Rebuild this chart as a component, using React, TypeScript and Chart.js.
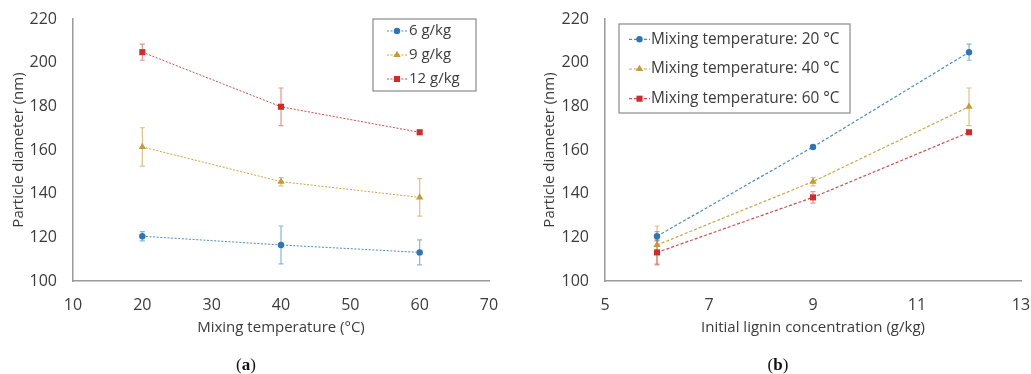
import React, { useEffect, useRef } from "react";
import { Chart, registerables } from "chart.js";

Chart.register(...registerables);

// ---- data ----
const temperatures = [20, 40, 60]; // °C
const concentrations = [6, 9, 12]; // g/kg

// Particle diameter (nm) for each lignin concentration, over mixing temperature
const diameter6 = [120.5, 116.5, 113.1];
const diameter9 = [161.4, 145.5, 138.3];
const diameter12 = [204.8, 179.8, 168.1];

// Standard deviations used in panel (a)
const sd6 = [2.1, 8.7, 5.7];
const sd9 = [8.8, 1.9, 8.6];
const sd12 = [3.7, 8.6, 1.0];

// Particle diameter (nm) for each mixing temperature, over lignin concentration
const diameter20 = [120.5, 161.4, 204.8];
const diameter40 = [116.5, 145.5, 179.8];
const diameter60 = [113.1, 138.3, 168.1];

// Standard deviations used in panel (b)
const sd20 = [2.1, 0.6, 3.7];
const sd40 = [8.7, 1.9, 8.6];
const sd60 = [5.7, 2.6, 1.0];

const labelsA = ["6 g/kg", "9 g/kg", "12 g/kg"];
const labelsB = ["Mixing temperature: 20 °C", "Mixing temperature: 40 °C", "Mixing temperature: 60 °C"];

const yMin = 100;
const yMax = 220;
const yStep = 20;
const xRangeA = [10, 70, 10];
const xRangeB = [5, 13, 2];

// ---- styling ----
const FONT = "'Open Sans', 'DejaVu Sans', sans-serif";
const TEXT = "#3b3b3b";
const AXIS = "#9a9a9a";

const series = [
  { color: "#2E75B6", line: "rgba(46,117,182,0.85)", err: "rgba(46,117,182,0.55)", style: "circle", radius: 3.2 },
  { color: "#C99A2E", line: "rgba(201,154,46,0.9)", err: "rgba(201,154,46,0.6)", style: "triangle", radius: 4.2 },
  { color: "#D12A2A", line: "rgba(209,42,42,0.85)", err: "rgba(209,42,42,0.5)", style: "rect", radius: 4.3 },
];

function points(xs: number[], ys: number[]) {
  return xs.map((x, i) => ({ x, y: ys[i] }));
}

// Vertical error bars with caps, drawn from each dataset's `errors` through the scales
const errorBarPlugin = {
  id: "errorBars",
  beforeDatasetsDraw(chart: any) {
    const { ctx, scales } = chart;
    const xs = scales.x;
    const ys = scales.y;
    chart.data.datasets.forEach((ds: any) => {
      if (!ds.errors) return;
      ctx.save();
      ctx.strokeStyle = ds.errorColor;
      ctx.lineWidth = 1.2;
      ds.data.forEach((pt: any, j: number) => {
        const e = ds.errors[j];
        if (!e) return;
        const px = xs.getPixelForValue(pt.x);
        const top = ys.getPixelForValue(pt.y + e);
        const bot = ys.getPixelForValue(pt.y - e);
        ctx.beginPath();
        ctx.moveTo(px, top);
        ctx.lineTo(px, bot);
        ctx.moveTo(px - 2.5, top);
        ctx.lineTo(px + 2.5, top);
        ctx.moveTo(px - 2.5, bot);
        ctx.lineTo(px + 2.5, bot);
        ctx.stroke();
      });
      ctx.restore();
    });
  },
};

function drawMarker(ctx: CanvasRenderingContext2D, style: string, r: number, x: number, y: number) {
  ctx.beginPath();
  if (style === "circle") {
    ctx.arc(x, y, r, 0, Math.PI * 2);
  } else if (style === "triangle") {
    ctx.moveTo(x, y - r);
    ctx.lineTo(x + r * 0.866, y + r * 0.5);
    ctx.lineTo(x - r * 0.866, y + r * 0.5);
    ctx.closePath();
  } else {
    const s = r * Math.SQRT1_2;
    ctx.rect(x - s, y - s, 2 * s, 2 * s);
  }
  ctx.fill();
}

// Boxed legend placed inside the plot area
const boxLegendPlugin = {
  id: "boxLegend",
  afterDatasetsDraw(chart: any, _args: any, opts: any) {
    const { ctx } = chart;
    const { left, top, width, height, rowStart, rowGap, lineFrom, lineTo, textX, fontSize } = opts;
    ctx.save();
    ctx.fillStyle = "#ffffff";
    ctx.fillRect(left, top, width, height);
    ctx.strokeStyle = "#8a8a8a";
    ctx.lineWidth = 1.2;
    ctx.strokeRect(left, top, width, height);
    chart.data.datasets.forEach((ds: any, i: number) => {
      const y = top + rowStart + i * rowGap;
      ctx.strokeStyle = ds.borderColor;
      ctx.lineWidth = ds.borderWidth;
      ctx.setLineDash(ds.borderDash);
      ctx.beginPath();
      ctx.moveTo(left + lineFrom, y);
      ctx.lineTo(left + lineTo, y);
      ctx.stroke();
      ctx.setLineDash([]);
      ctx.fillStyle = ds.pointBackgroundColor;
      drawMarker(ctx, ds.pointStyle, ds.pointRadius, left + (lineFrom + lineTo) / 2, y);
      ctx.fillStyle = TEXT;
      ctx.font = `${fontSize}px ${FONT}`;
      ctx.textBaseline = "middle";
      ctx.textAlign = "left";
      ctx.fillText(ds.label, left + textX, y);
    });
    ctx.restore();
  },
};

function makeDatasets(xs: number[], ys: number[][], errs: number[][], labels: string[], dash: number[], width: number) {
  return ys.map((vals, i) => {
    const s = series[i];
    return {
      label: labels[i],
      data: points(xs, vals),
      errors: errs[i],
      errorColor: s.err,
      borderColor: s.line,
      borderWidth: width,
      borderDash: dash,
      pointStyle: s.style,
      pointRadius: s.radius,
      pointBackgroundColor: s.color,
      pointBorderColor: s.color,
      pointBorderWidth: 0,
      showLine: true,
      tension: 0,
      clip: false,
    };
  });
}

function makeConfig(p: {
  datasets: any[];
  xRange: number[];
  xTitle: string;
  padLeft: number;
  padRight: number;
  yWidth: number;
  yTitlePad: number;
  legend: any;
}) {
  const tickFont = { family: FONT, size: 16 };
  const titleFont = { family: FONT, size: 15 };
  return {
    type: "scatter",
    data: { datasets: p.datasets },
    plugins: [errorBarPlugin, boxLegendPlugin],
    options: {
      responsive: false,
      animation: false,
      layout: { padding: { left: p.padLeft, right: p.padRight, top: 19, bottom: 0 } },
      plugins: {
        legend: { display: false },
        tooltip: { enabled: false },
        boxLegend: p.legend,
      },
      scales: {
        x: {
          type: "linear",
          min: p.xRange[0],
          max: p.xRange[1],
          ticks: { stepSize: p.xRange[2], padding: 14.5, color: TEXT, font: tickFont },
          grid: { display: false, drawTicks: false },
          border: { display: true, color: AXIS, width: 1.5 },
          title: { display: true, text: p.xTitle, color: TEXT, font: titleFont, padding: { top: 0, bottom: 4 } },
          afterFit: (s: any) => {
            s.height = 60;
            s.paddingLeft = 0;
            s.paddingRight = 0;
          },
        },
        y: {
          type: "linear",
          min: yMin,
          max: yMax,
          ticks: { stepSize: yStep, padding: 16, color: TEXT, font: tickFont },
          grid: { display: false, drawTicks: false },
          border: { display: true, color: AXIS, width: 1.5 },
          title: {
            display: true,
            text: "Particle diameter (nm)",
            color: TEXT,
            font: titleFont,
            padding: { top: p.yTitlePad, bottom: 0 },
          },
          afterFit: (s: any) => {
            s.width = p.yWidth;
            s.paddingTop = 0;
            s.paddingBottom = 0;
          },
        },
      },
    },
  };
}

function ChartPanel({ config, left, width, height }: { config: any; left: number; width: number; height: number }) {
  const ref = useRef<HTMLCanvasElement>(null);
  useEffect(() => {
    const chart = new Chart(ref.current as HTMLCanvasElement, config);
    return () => chart.destroy();
  }, []);
  return (
    <canvas
      ref={ref}
      width={width}
      height={height}
      style={{ position: "absolute", left, top: 0, width, height, display: "block" }}
    />
  );
}

const captionStyle: React.CSSProperties = {
  position: "absolute",
  top: 355,
  fontFamily: "'Liberation Serif', 'DejaVu Serif', serif",
  fontSize: 17,
  lineHeight: "20px",
  color: "#111",
  transform: "translateX(-50%)",
  whiteSpace: "nowrap",
};

export default function App() {
  const configA = makeConfig({
    datasets: makeDatasets(temperatures, [diameter6, diameter9, diameter12], [sd6, sd9, sd12], labelsA, [2, 1.6], 1),
    xRange: xRangeA,
    xTitle: "Mixing temperature (°C)",
    padLeft: 0,
    padRight: 11,
    yWidth: 73,
    yTitlePad: 9.5,
    legend: { left: 373, top: 19, width: 103, height: 72, rowStart: 12, rowGap: 24, lineFrom: 14, lineTo: 34, textX: 36, fontSize: 15 },
  });
  const configB = makeConfig({
    datasets: makeDatasets(concentrations, [diameter20, diameter40, diameter60], [sd20, sd40, sd60], labelsB, [3, 2], 1.2),
    xRange: xRangeB,
    xTitle: "Initial lignin concentration (g/kg)",
    padLeft: 15,
    padRight: 10,
    yWidth: 75,
    yTitlePad: 11,
    legend: { left: 104, top: 24, width: 231, height: 89, rowStart: 15.3, rowGap: 29.7, lineFrom: 10, lineTo: 31, textX: 32, fontSize: 15.4 },
  });

  return (
    <div style={{ position: "fixed", left: 0, top: 0, width: 1031, height: 374, background: "#fff" }}>
      <ChartPanel config={configA} left={0} width={500} height={341} />
      <ChartPanel config={configB} left={515} width={516} height={341} />
      <div style={{ ...captionStyle, left: 246 }}>
        (<b>a</b>)
      </div>
      <div style={{ ...captionStyle, left: 778 }}>
        (<b>b</b>)
      </div>
    </div>
  );
}
